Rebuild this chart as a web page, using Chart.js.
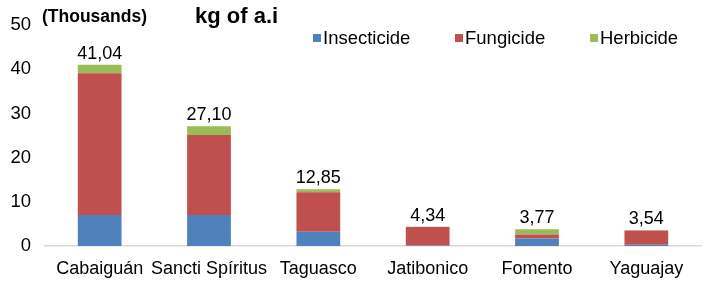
<!DOCTYPE html>
<html>
<head>
<meta charset="utf-8">
<script src="https://cdn.jsdelivr.net/npm/chart.js@4/dist/chart.umd.min.js"></script>
<style>
  html, body { margin: 0; padding: 0; background: #fff; }
  #wrap { width: 720px; height: 300px; }
</style>
</head>
<body>
<div id="wrap"><canvas id="chart" width="720" height="300"></canvas></div>
<script>
const municipalities = ['Cabaiguán', 'Sancti Spíritus', 'Taguasco', 'Jatibonico', 'Fomento', 'Yaguajay'];
const insecticide = [7.0, 7.0, 3.25, 0.1, 1.7, 0.3];
const fungicide = [32.1, 18.1, 8.9, 4.2, 0.9, 3.2];
const herbicide = [1.94, 2.0, 0.7, 0.04, 1.17, 0.04];
const totals = [41.04, 27.10, 12.85, 4.34, 3.77, 3.54];
const yTicks = [0, 10, 20, 30, 40, 50];

const FONT = '"Liberation Sans", Arial, sans-serif';
const colors = { insecticide: '#4f81bd', fungicide: '#c0504d', herbicide: '#9bbb59' };

// totals above the stacks, titles and a hand-placed legend
const decorations = {
  id: 'decorations',
  afterDatasetsDraw(chart) {
    const { ctx, scales } = chart;
    ctx.save();
    ctx.fillStyle = '#000';
    ctx.font = `18px ${FONT}`;
    ctx.textAlign = 'center';
    ctx.textBaseline = 'bottom';
    totals.forEach((total, i) => {
      const x = scales.x.getPixelForValue(i);
      const y = scales.y.getPixelForValue(total);
      ctx.fillText(total.toFixed(2).replace('.', ','), x, y - 2);
    });

    ctx.textAlign = 'left';
    ctx.textBaseline = 'middle';
    ctx.font = `bold 17.5px ${FONT}`;
    ctx.fillText('(Thousands)', 42, 17);
    ctx.font = `bold 22px ${FONT}`;
    ctx.fillText('kg of a.i', 195, 17);

    const legendX = [313, 455, 590];
    ctx.font = `18.5px ${FONT}`;
    chart.data.datasets.forEach((ds, i) => {
      ctx.fillStyle = ds.backgroundColor;
      ctx.fillRect(legendX[i], 34, 8, 8);
      ctx.fillStyle = '#000';
      ctx.fillText(ds.label, legendX[i] + 10, 39);
    });
    ctx.restore();
  },
};

new Chart(document.getElementById('chart'), {
  type: 'bar',
  data: {
    labels: municipalities,
    datasets: [
      { label: 'Insecticide', data: insecticide, backgroundColor: colors.insecticide },
      { label: 'Fungicide', data: fungicide, backgroundColor: colors.fungicide },
      { label: 'Herbicide', data: herbicide, backgroundColor: colors.herbicide },
    ],
  },
  options: {
    responsive: false,
    animation: false,
    layout: { padding: { top: 25, right: 19, bottom: 0, left: 0 } },
    datasets: { bar: { categoryPercentage: 1, barPercentage: 0.4 } },
    plugins: { legend: { display: false }, tooltip: { enabled: false } },
    scales: {
      x: {
        stacked: true,
        grid: { display: false, drawTicks: false },
        border: { color: '#d9d9d9', width: 1.5 },
        ticks: { color: '#000', font: { family: FONT, size: 18 }, padding: 12, maxRotation: 0, autoSkip: false },
        afterFit: (scale) => { scale.height = 54; },
      },
      y: {
        stacked: true,
        min: 0,
        max: 50,
        grid: { display: false, drawTicks: false },
        border: { display: false },
        afterBuildTicks: (scale) => { scale.ticks = yTicks.map((v) => ({ value: v })); },
        ticks: { color: '#000', font: { family: FONT, size: 18.5 }, padding: 14 },
        afterFit: (scale) => { scale.width = 45; },
      },
    },
  },
  plugins: [decorations],
});
</script>
</body>
</html>
